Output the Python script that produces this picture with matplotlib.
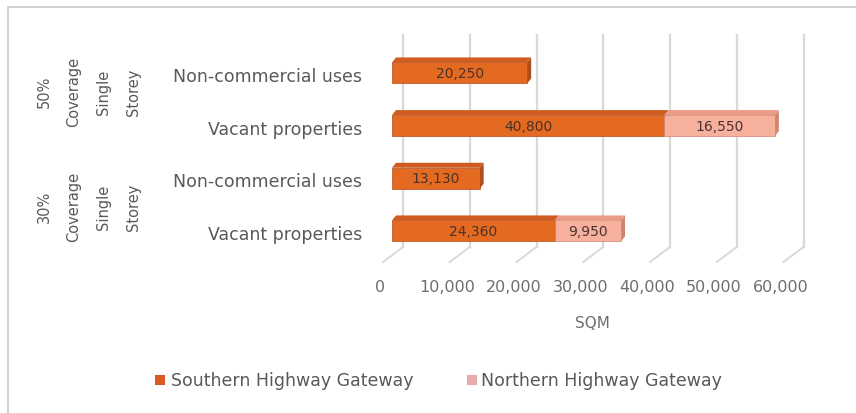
import matplotlib

matplotlib.use("Agg")

import matplotlib.pyplot as plt
import numpy as np
from matplotlib.patches import Polygon, Rectangle
from matplotlib.transforms import ScaledTranslation

# floor space by group (top to bottom)
categories = ["Non-commercial uses", "Vacant properties", "Non-commercial uses", "Vacant properties"]
groups = ["50%\nCoverage\nSingle\nStorey", "30%\nCoverage\nSingle\nStorey"]
southern = [20250, 40800, 13130, 24360]
northern = [0, 16550, 0, 9950]
series_names = ["Southern Highway Gateway", "Northern Highway Gateway"]
xticks = [0, 10000, 20000, 30000, 40000, 50000, 60000]
xtick_labels = ["0", "10,000", "20,000", "30,000", "40,000", "50,000", "60,000"]

FONT = ["DejaVu Sans"]
TEXT_GREY = "#595959"
SOUTH_FRONT = "#e46a22"
SOUTH_TOP = "#cf5d22"
SOUTH_SIDE = "#b04c1c"
NORTH_FRONT = "#f7b09c"
NORTH_TOP = "#eb9c86"
NORTH_SIDE = "#d08470"
GRID = "#d9d9d9"

W, H = 856, 414
DPI = 100
fig = plt.figure(figsize=(W / DPI, H / DPI), dpi=DPI)
plt.rcParams["font.family"] = FONT

# outer frame
fig.add_artist(Rectangle((8 / W, -0.01), 1.0, 1 - 8 / H + 0.01, transform=fig.transFigure,
                         fill=False, edgecolor="#c8c8c8", lw=1.2))

# plot area in pixels
x0_px, x1_px = 392, 792.5
top_px, bot_px = 36, 263
ax = fig.add_axes([x0_px / W, 1 - bot_px / H, (x1_px - x0_px) / W, (bot_px - top_px) / H])
ax.set_xlim(0, 60000)
rows = np.arange(len(categories))[::-1]
ax.set_ylim(-0.59, 3.72)
ax.axis("off")

px_x = 60000 / (x1_px - x0_px)
px_y = (3.72 + 0.59) / (bot_px - top_px)
bar_h = 21 * px_y
dx, dy = 4 * px_x, 5 * px_y

# back-wall gridlines with small floor diagonals
back = ScaledTranslation(11 / DPI, 0, fig.dpi_scale_trans)
for v in xticks:
    ax.plot([v, v], [-0.59 + 15 * px_y, 3.72], color=GRID, lw=1.6,
            transform=ax.transData + back, clip_on=False, zorder=0)
    ax.plot([v + 11 * px_x, v - 9 * px_x], [-0.59 + 15 * px_y, -0.59], color=GRID, lw=1.4,
            clip_on=False, zorder=0)

# 3D-style stacked bars
def draw_bar(left, width, y, front, topc, sidec):
    if width <= 0:
        return
    ax.barh(y, width, left=left, height=bar_h, color=front, edgecolor=sidec, lw=0.5, zorder=3)
    right = left + width
    yt = y + bar_h / 2
    ax.add_patch(Polygon([(left, yt), (left + dx, yt + dy), (right + dx, yt + dy), (right, yt)],
                         closed=True, facecolor=topc, edgecolor="none", zorder=3))
    ax.add_patch(Polygon([(right, y - bar_h / 2), (right + dx, y - bar_h / 2 + dy),
                          (right + dx, yt + dy), (right, yt)],
                         closed=True, facecolor=sidec, edgecolor="none", zorder=2))


for y, s, n in zip(rows, southern, northern):
    draw_bar(0, s, y, SOUTH_FRONT, SOUTH_TOP, SOUTH_SIDE)
    draw_bar(s, n, y, NORTH_FRONT, NORTH_TOP, NORTH_SIDE)
    ax.text(s / 2, y, f"{s:,}", ha="center", va="center", fontsize=10, color="#4a3228", zorder=5)
    if n:
        ax.text(s + n / 2, y, f"{n:,}", ha="center", va="center", fontsize=10,
                color="#4a3232", zorder=5)

# category labels
for y, label in zip(rows, categories):
    ax.text(-30 * px_x, y - 3 * px_y, label, ha="right", va="center", fontsize=12.5,
            color=TEXT_GREY, clip_on=False)

# group labels, rotated
for gy_px, g in zip([92, 207], groups):
    ax.text(-(392 - 89) * px_x, 3.72 - (gy_px - top_px) * px_y, g, rotation=90,
            ha="center", va="center", multialignment="center", fontsize=10.5,
            color=TEXT_GREY, linespacing=2.25, clip_on=False)

# x tick labels and title
for v, lab in zip(xticks, xtick_labels):
    ax.text(v - 12 * px_x, -0.59 - 24 * px_y, lab, ha="center", va="center", fontsize=11.5,
            color="#6e6e6e", clip_on=False)
ax.text(30000, -0.59 - 60 * px_y, "SQM", ha="center", va="center", fontsize=11,
        color="#6e6e6e", clip_on=False)

# legend
leg_y = 1 - 381 / H
for xs, xt, col, name in [(155, 171, "#d95a22", series_names[0]), (467, 481, "#eaa9a9", series_names[1])]:
    fig.add_artist(Rectangle((xs / W, leg_y - 5 / H), 10 / W, 10 / H, transform=fig.transFigure,
                             facecolor=col, edgecolor="none"))
    fig.text(xt / W, leg_y, name, ha="left", va="center", fontsize=12.5, color=TEXT_GREY)

fig.savefig("out.png", dpi=DPI)
